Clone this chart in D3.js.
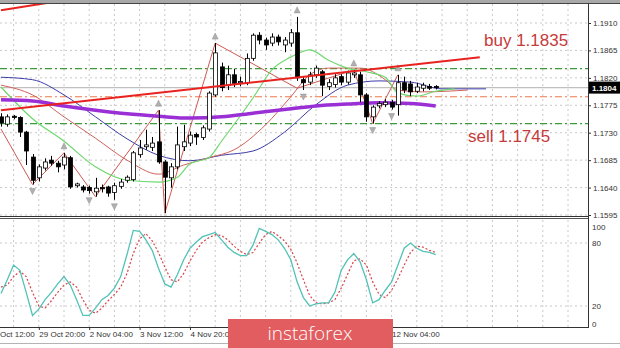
<!DOCTYPE html>
<html lang="en">
<head>
<meta charset="UTF-8">
<title>EURUSD H4</title>
<script src="https://cdnjs.cloudflare.com/ajax/libs/d3/7.8.5/d3.min.js"></script>
<style>
    body { margin: 0; background: #fff; }
    svg { display: block; font-family: 'Liberation Sans', Arial, sans-serif; }
    .tick text { font-size: 8px; fill: #333; }
</style>
</head>
<body>
<svg id="chart" width="620" height="348"></svg>
<script>
// candles, H4, one entry per bar
const opens = [
    1.1756,1.1744,1.1757,1.1755,1.1731,1.1690,1.1656,1.1672,1.1685,1.1680,
    1.1677,1.1689,1.1643,1.1641,1.1640,1.1633,1.1640,1.1641,1.1632,1.1642,
    1.1652,1.1653,1.1694,1.1707,1.1706,1.1715,1.1682,1.1656,1.1674,1.1707,
    1.1713,1.1727,1.1722,1.1736,1.1792,1.1838,1.1808,1.1825,1.1812,1.1812,
    1.1852,1.1890,1.1882,1.1877,1.1887,1.1874,1.1877,1.1894,1.1817,1.1813,
    1.1825,1.1830,1.1806,1.1809,1.1822,1.1813,1.1825,1.1825,1.1792,1.1756,
    1.1774,1.1776,1.1780,1.1776,1.1812,1.1810,1.1798,1.1803,1.1806,1.1806];
const highs = [
    1.1762,1.1760,1.1759,1.1757,1.1733,1.1695,1.1678,1.1688,1.1692,1.1684,
    1.1697,1.1692,1.1648,1.1644,1.1643,1.1656,1.1645,1.1643,1.1648,1.1654,
    1.1660,1.1700,1.1718,1.1735,1.1723,1.1767,1.1685,1.1680,1.1740,1.1743,
    1.1732,1.1730,1.1742,1.1798,1.1877,1.1845,1.1840,1.1835,1.1822,1.1860,
    1.1893,1.1895,1.1886,1.1893,1.1891,1.1887,1.1900,1.1920,1.1822,1.1830,
    1.1840,1.1833,1.1818,1.1826,1.1826,1.1832,1.1833,1.1830,1.1795,1.1775,
    1.1782,1.1785,1.1784,1.1825,1.1822,1.1815,1.1812,1.1812,1.1810,1.1808];
const lows = [
    1.1740,1.1740,1.1752,1.1723,1.1677,1.1645,1.1650,1.1668,1.1676,1.1665,
    1.1670,1.1638,1.1640,1.1632,1.1630,1.1625,1.1632,1.1625,1.1620,1.1638,
    1.1648,1.1650,1.1689,1.1702,1.1700,1.1679,1.1598,1.1640,1.1670,1.1700,
    1.1708,1.1710,1.1718,1.1732,1.1789,1.1798,1.1800,1.1805,1.1806,1.1808,
    1.1848,1.1875,1.1866,1.1872,1.1873,1.1862,1.1871,1.1815,1.1800,1.1808,
    1.1820,1.1790,1.1800,1.1804,1.1808,1.1809,1.1820,1.1780,1.1748,1.1745,
    1.1770,1.1772,1.1768,1.1758,1.1795,1.1790,1.1795,1.1798,1.1800,1.1801];
const closes = [
    1.1746,1.1756,1.1755,1.1731,1.1700,1.1652,1.1674,1.1682,1.1680,1.1674,
    1.1690,1.1641,1.1646,1.1636,1.1635,1.1639,1.1638,1.1631,1.1643,1.1649,
    1.1657,1.1697,1.1705,1.1710,1.1713,1.1682,1.1657,1.1674,1.1710,1.1715,
    1.1726,1.1723,1.1738,1.1795,1.1861,1.1804,1.1825,1.1811,1.1814,1.1852,
    1.1890,1.1882,1.1874,1.1887,1.1879,1.1882,1.1894,1.1820,1.1812,1.1825,
    1.1836,1.1808,1.1812,1.1820,1.1813,1.1828,1.1828,1.1792,1.1756,1.1772,
    1.1778,1.1780,1.1772,1.1812,1.1800,1.1797,1.1805,1.1808,1.1803,1.1804];

// stochastic main (%K) and signal (%D)
const stochK = [
    32,45,59,54,33,11,17,26,33,41, 48,40,26,11,11,18,26,30,37,48,
    69,92,91,83,73,56,41,38,50,64, 75,81,86,88,90,83,76,71,68,68,
    78,94,91,88,83,75,64,43,28,20, 22,23,23,33,54,64,70,62,45,23,
    26,35,43,59,75,80,75,72,71,69];
const stochD = [
    38,40,48,53,48,33,20,18,25,33, 40,43,38,26,16,13,18,25,31,38,
    51,70,84,89,82,71,57,45,43,51, 63,73,81,85,88,87,83,77,72,69,
    71,80,88,91,87,82,74,61,45,30, 23,22,23,26,37,50,63,65,59,43,
    31,28,35,46,59,71,77,76,73,71];

// moving averages (bar index -> price)
const maSlowBars = [0, 5, 10, 15, 20, 25, 30, 35, 40, 45, 50, 55, 60, 65, 69];
const maSlowVals = [1.1784,1.1782,1.1774,1.1767,1.1761,1.1757,1.1754,1.1756,1.1762,1.1768,1.1774,1.1777,1.1779,1.1778,1.1774];

const jawBars = [0, 5, 10, 15, 20, 25, 30, 35, 40, 45, 50, 55, 60, 65, 70, 77];
const jawVals = [1.1821,1.1817,1.1792,1.1756,1.1720,1.1693,1.1684,1.1693,1.1700,1.1731,1.1776,1.1808,1.1815,1.1813,1.1802,1.1802];

const teethBars = [0, 5, 10, 15, 20, 25, 29, 33, 37, 42, 46, 49, 52, 57, 61, 63, 67, 74];
const teethVals = [1.1808,1.1792,1.1756,1.1721,1.1685,1.1662,1.1677,1.1689,1.1702,1.1743,1.1789,1.1825,1.1836,1.1836,1.1817,1.1800,1.1797,1.1800];

const lipsBars = [0, 5, 10, 15, 20, 25, 28, 30, 33, 35, 40, 43, 46, 49, 52, 55, 58, 61, 63, 66, 69, 72];
const lipsVals = [1.1805,1.1753,1.1716,1.1674,1.1652,1.1649,1.1657,1.1679,1.1689,1.1716,1.1787,1.1833,1.1854,1.1866,1.1849,1.1836,1.1830,1.1821,1.1795,1.1790,1.1798,1.1802];

const zigzagBars = [0, 5, 10, 15, 25, 26, 34, 47, 56, 59, 63];
const zigzagVals = [1.1736,1.1645,1.1697,1.1625,1.1767,1.1598,1.1877,1.1803,1.1833,1.1745,1.1825];

const fractalUp = [10, 25, 34, 47, 56, 63];
const fractalDown = [5, 14, 18, 26, 48, 59, 62];

// trend lines and levels
const trendMain = { bars: [0, 76], vals: [1.1767, 1.1854] };
const trendTop = { bars: [0, 8], vals: [1.1931, 1.1944] };
const buyLevel = 1.1835;
const sellLevel = 1.1745;
const pivotLevel = 1.1789;
const lastPrice = 1.1804;

const priceTicks = [1.1910, 1.1865, 1.1820, 1.1775, 1.1730, 1.1685, 1.1640, 1.1595];
const stochTicks = [100, 80, 20, 0];
// labels under the watermark (6 Nov, 9 Nov, 10 Nov) are not visible, so only these are drawn
const timeBars = [-2, 6, 14, 22, 30, 62];
const timeLabels = ['28 Oct 12:00', '29 Oct 20:00', '2 Nov 04:00', '3 Nov 12:00', '4 Nov 20:00', '12 Nov 04:00'];

const svg = d3.select('#chart');
const right = 588;

// scales
const x = d3.scaleLinear().domain([0, 69]).range([1, 435.7]);
const y = d3.scaleLinear().domain([1.1595, 1.1910]).range([215, 23]);
const ys = d3.scaleLinear().domain([0, 100]).range([327, 222]);

// frames
svg.append('rect').attr('x', 0).attr('y', 0).attr('width', 620).attr('height', 3).attr('fill', '#a8a8a8');

const defs = svg.append('defs');
defs.append('clipPath').attr('id', 'clipMain')
    .append('rect').attr('x', 0).attr('y', 4).attr('width', right).attr('height', 212);
defs.append('clipPath').attr('id', 'clipStoch')
    .append('rect').attr('x', 0).attr('y', 220).attr('width', right).attr('height', 107);

const main = svg.append('g').attr('clip-path', 'url(#clipMain)');
const sub = svg.append('g').attr('clip-path', 'url(#clipStoch)');

// grid
const gridBars = d3.range(-2, 92, 4);
main.selectAll('.vgrid').data(gridBars).enter().append('line')
    .attr('x1', d => x(d)).attr('x2', d => x(d)).attr('y1', 4).attr('y2', 216)
    .attr('stroke', '#c8c8c8').attr('stroke-dasharray', '2,3');
main.selectAll('.hgrid').data(priceTicks).enter().append('line')
    .attr('x1', 0).attr('x2', right).attr('y1', d => y(d)).attr('y2', d => y(d))
    .attr('stroke', '#c8c8c8').attr('stroke-dasharray', '2,3');
sub.selectAll('.vgrid').data(gridBars).enter().append('line')
    .attr('x1', d => x(d)).attr('x2', d => x(d)).attr('y1', 220).attr('y2', 327)
    .attr('stroke', '#c8c8c8').attr('stroke-dasharray', '2,3');
sub.selectAll('.hgrid').data([80, 20]).enter().append('line')
    .attr('x1', 0).attr('x2', right).attr('y1', d => ys(d)).attr('y2', d => ys(d))
    .attr('stroke', '#c8c8c8').attr('stroke-dasharray', '2,3');

// horizontal levels
function level(p, color, dash) {
    main.append('line').attr('x1', 0).attr('x2', right)
        .attr('y1', y(p)).attr('y2', y(p))
        .attr('stroke', color).attr('stroke-width', 1.2)
        .attr('stroke-dasharray', dash);
}
level(lastPrice, '#c0c0c0', null);
level(buyLevel, '#3b9a3b', '7,3,2,3');
level(sellLevel, '#3b9a3b', '7,3,2,3');
level(pivotLevel, '#ee7a48', '7,3,2,3');

// indicator lines
function series(bars, vals, color, width, curve) {
    const line = d3.line().x(d => x(d[0])).y(d => y(d[1])).curve(curve || d3.curveMonotoneX);
    main.append('path').datum(bars.map((b, i) => [b, vals[i]]))
        .attr('d', line).attr('fill', 'none')
        .attr('stroke', color).attr('stroke-width', width);
}
series(zigzagBars, zigzagVals, '#cc5a50', 1, d3.curveLinear);
series(jawBars, jawVals, '#3c3ca8', 1);
series(teethBars, teethVals, '#d0605a', 1);
series(lipsBars, lipsVals, '#6ed86e', 1.2);
series(maSlowBars, maSlowVals, '#9a2fd6', 3.5);

// fractal arrows
main.selectAll('.fup').data(fractalUp).enter().append('path')
    .attr('d', d => `M${x(d) - 3},${y(highs[d]) - 4} L${x(d)},${y(highs[d]) - 10} L${x(d) + 3},${y(highs[d]) - 4} Z`)
    .attr('fill', '#b0b0b0').attr('stroke', '#909090').attr('stroke-width', 0.5);
main.selectAll('.fdn').data(fractalDown).enter().append('path')
    .attr('d', d => `M${x(d) - 3},${y(lows[d]) + 4} L${x(d)},${y(lows[d]) + 10} L${x(d) + 3},${y(lows[d]) + 4} Z`)
    .attr('fill', '#b0b0b0').attr('stroke', '#909090').attr('stroke-width', 0.5);

// candles
const candles = main.selectAll('.candle').data(d3.range(opens.length)).enter().append('g');
candles.append('line')
    .attr('x1', i => Math.round(x(i)) + 0.5).attr('x2', i => Math.round(x(i)) + 0.5)
    .attr('y1', i => y(highs[i])).attr('y2', i => y(lows[i]))
    .attr('stroke', '#000');
candles.append('rect')
    .attr('x', i => Math.round(x(i)) - 1.5)
    .attr('y', i => y(Math.max(opens[i], closes[i])))
    .attr('width', 4)
    .attr('height', i => Math.max(1, Math.abs(y(opens[i]) - y(closes[i]))))
    .attr('fill', i => closes[i] >= opens[i] ? '#fff' : '#000')
    .attr('stroke', '#000').attr('stroke-width', 0.8);

// red trend lines
function trend(t) {
    main.append('line')
        .attr('x1', x(t.bars[0])).attr('y1', y(t.vals[0]))
        .attr('x2', x(t.bars[1])).attr('y2', y(t.vals[1]))
        .attr('stroke', '#e8231f').attr('stroke-width', 2);
}
trend(trendMain);
trend(trendTop);

// annotations
svg.append('text').attr('x', 484).attr('y', 46).text('buy 1.1835')
    .attr('font-size', 17).attr('fill', '#c63a3c');
svg.append('text').attr('x', 468).attr('y', 142).text('sell 1.1745')
    .attr('font-size', 17).attr('fill', '#c63a3c');

// stochastic
const stochLine = d3.line().x((d, i) => x(i)).y(d => ys(d));
sub.append('path').datum(stochD).attr('d', stochLine).attr('fill', 'none')
    .attr('stroke', '#d9434a').attr('stroke-width', 1.2).attr('stroke-dasharray', '2,2');
sub.append('path').datum(stochK).attr('d', stochLine).attr('fill', 'none')
    .attr('stroke', '#52c2b6').attr('stroke-width', 1.3);

// axes
const priceAxis = d3.axisRight(y).tickValues(priceTicks).tickSize(3).tickFormat(d3.format('.4f'));
svg.append('g').attr('transform', `translate(${right},0)`).call(priceAxis)
    .call(g => g.select('.domain').remove())
    .call(g => g.selectAll('line').attr('stroke', '#333'))
    .call(g => g.selectAll('text').attr('x', 5));

const stochAxis = d3.axisRight(ys).tickValues(stochTicks).tickSize(0);
svg.append('g').attr('transform', `translate(${right},0)`).call(stochAxis)
    .call(g => g.select('.domain').remove())
    .call(g => g.selectAll('text').attr('x', 4)
        .attr('dy', d => d === 100 ? '0.9em' : (d === 0 ? '-0.1em' : '0.32em')));

// time axis
const timeAxis = d3.axisBottom(x).tickValues(timeBars).tickSize(3)
    .tickFormat((d, i) => timeLabels[i]);
svg.append('g').attr('transform', 'translate(0,327)').call(timeAxis)
    .call(g => g.select('.domain').remove())
    .call(g => g.selectAll('line').attr('stroke', '#333'))
    .call(g => g.selectAll('text').attr('text-anchor', 'start').attr('x', 0).attr('y', 4).attr('dy', '0.71em'));

// frame lines
svg.append('line').attr('x1', 0).attr('x2', 620).attr('y1', 3.5).attr('y2', 3.5).attr('stroke', '#444');
svg.append('line').attr('x1', 0).attr('x2', right).attr('y1', 216.5).attr('y2', 216.5).attr('stroke', '#333');
svg.append('line').attr('x1', 0).attr('x2', right).attr('y1', 218.5).attr('y2', 218.5).attr('stroke', '#555');
svg.append('line').attr('x1', 0).attr('x2', right + 0.5).attr('y1', 327.5).attr('y2', 327.5).attr('stroke', '#333');
svg.append('line').attr('x1', right + 0.5).attr('x2', right + 0.5).attr('y1', 3).attr('y2', 328).attr('stroke', '#333');
svg.append('line').attr('x1', 0).attr('x2', 620).attr('y1', 343.5).attr('y2', 343.5).attr('stroke', '#b4b4b4');

// last price tag
svg.append('rect').attr('x', right + 1).attr('y', y(lastPrice) - 6).attr('width', 31).attr('height', 12).attr('fill', '#000');
svg.append('text').attr('x', right + 4).attr('y', y(lastPrice) + 3).text(lastPrice.toFixed(4))
    .attr('font-size', 8).attr('font-weight', 'bold').attr('fill', '#fff');

// watermark
svg.append('rect').attr('x', 228).attr('y', 319).attr('width', 165).attr('height', 29).attr('fill', '#e25d5f');
svg.append('text').attr('x', 310).attr('y', 340).attr('text-anchor', 'middle').text('instaforex')
    .attr('font-family', "'Open Sans', sans-serif").attr('font-weight', 300)
    .attr('font-size', 19).attr('fill', '#fff');
</script>
</body>
</html>
